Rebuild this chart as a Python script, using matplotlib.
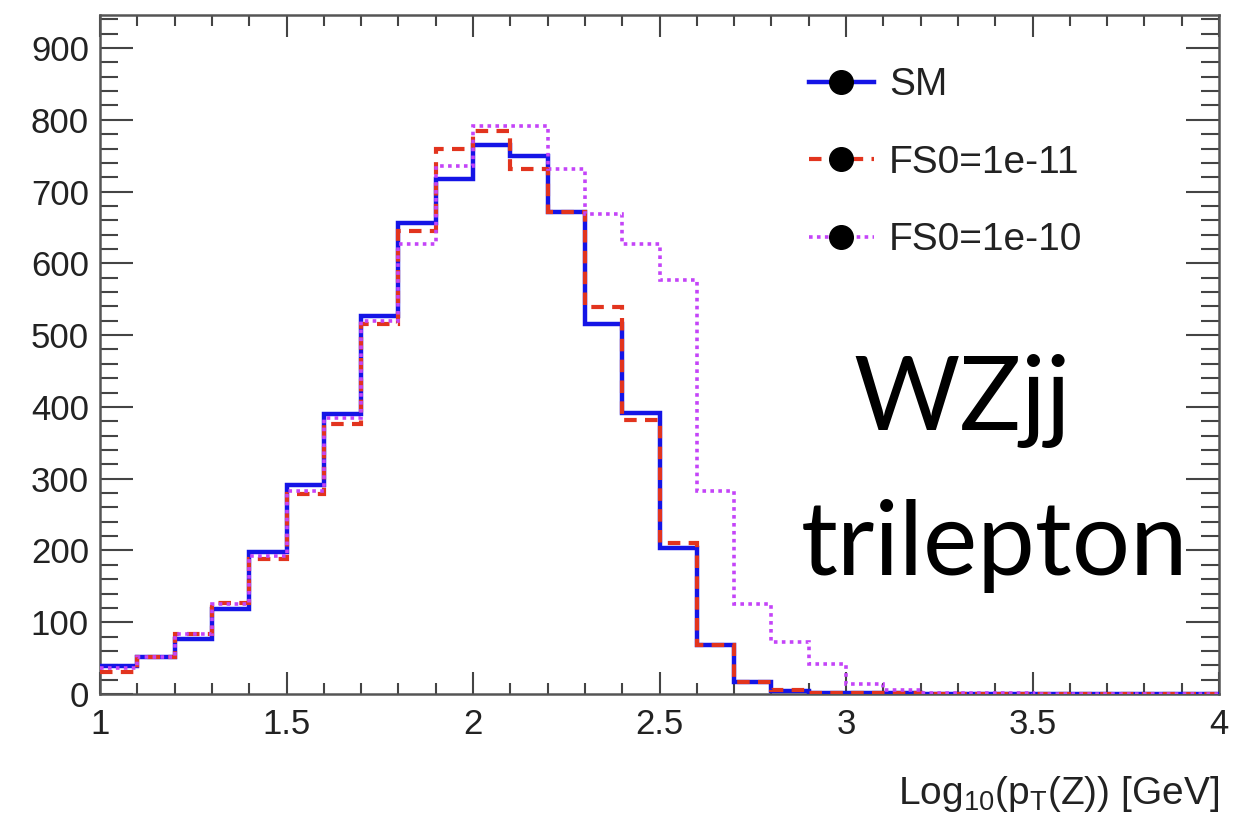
import numpy as np
import matplotlib.pyplot as plt
from matplotlib.lines import Line2D
from matplotlib.ticker import MultipleLocator

plt.rcParams['font.family'] = ['Liberation Sans', 'DejaVu Sans']
plt.rcParams['mathtext.fontset'] = 'custom'
plt.rcParams['mathtext.rm'] = 'Liberation Sans'
plt.rcParams['mathtext.it'] = 'Liberation Sans'

# log10(pT(Z)) binning: 30 bins of 0.1 from 1 to 4
edges = np.round(np.arange(1.0, 4.0001, 0.1), 2)

sm = [39, 52, 77, 119, 198, 291, 390, 526, 656, 717,
      765, 750, 671, 516, 392, 204, 68, 17, 4, 2,
      1, 1, 0, 0, 0, 0, 0, 0, 0, 0]
fs0_1e11 = [31, 52, 84, 127, 188, 279, 376, 516, 645, 760,
            785, 732, 671, 539, 382, 211, 68, 17, 5, 2,
            1, 1, 0, 0, 0, 0, 0, 0, 0, 0]
fs0_1e10 = [36, 52, 84, 125, 192, 283, 385, 520, 627, 735,
            792, 792, 731, 669, 627, 577, 283, 126, 72, 42,
            14, 5, 2, 1, 1, 0, 0, 0, 0, 0]

labels = ["SM", "FS0=1e-11", "FS0=1e-10"]
colors = ["#1414e6", "#e2341e", "#c444f8"]

fig = plt.figure(figsize=(12.44, 8.13), dpi=100)
ax = fig.add_axes([100/1244, 1 - 694/813, 1119/1244, 679/813])

ax.stairs(sm, edges, color=colors[0], lw=3.2, linestyle='-', baseline=None, zorder=3)
ax.stairs(fs0_1e11, edges, color=colors[1], lw=3.0, linestyle=(0, (3, 2)), baseline=None, zorder=4)
ax.stairs(fs0_1e10, edges, color=colors[2], lw=2.6, linestyle=(0, (1, 1.2)), baseline=None, zorder=5)

ax.set_xlim(1, 4)
ax.set_ylim(0, 946)

ax.xaxis.set_major_locator(MultipleLocator(0.5))
ax.xaxis.set_minor_locator(MultipleLocator(0.1))
ax.yaxis.set_major_locator(MultipleLocator(100))
ax.yaxis.set_minor_locator(MultipleLocator(20))
ax.set_xticks([1, 1.5, 2, 2.5, 3, 3.5, 4])
ax.set_xticklabels(["1", "1.5", "2", "2.5", "3", "3.5", "4"])

ax.tick_params(which='both', direction='in', top=True, right=True,
               color='#444444', width=1.5, labelsize=25, labelcolor='#222222')
ax.tick_params(axis='x', which='major', length=16, pad=10)
ax.tick_params(axis='x', which='minor', length=8)
ax.tick_params(axis='y', which='major', length=24, pad=8)
ax.tick_params(axis='y', which='minor', length=13)
for s in ax.spines.values():
    s.set_color('#555555')
    s.set_linewidth(1.8)

ax.set_xlabel(r"Log$_{10}$(p$_{T}$(Z)) [GeV]", fontsize=28, color='#222222')
ax.xaxis.set_label_coords(1.0, -0.118)
ax.xaxis.label.set_horizontalalignment('right')

handles = [Line2D([], [], color=colors[0], lw=3.2, ls='-', marker='o',
                  markersize=17, markerfacecolor='black', markeredgecolor='black'),
           Line2D([], [], color=colors[1], lw=3.0, ls=(0, (3, 2)), marker='o',
                  markersize=17, markerfacecolor='black', markeredgecolor='black'),
           Line2D([], [], color=colors[2], lw=2.6, ls=(0, (1, 1.2)), marker='o',
                  markersize=17, markerfacecolor='black', markeredgecolor='black')]
leg = ax.legend(handles, labels, loc='upper left', bbox_to_anchor=(0.620, 0.946),
                frameon=False, fontsize=28, handlelength=1.65, handletextpad=0.4,
                labelspacing=1.07, borderaxespad=0)
for t in leg.get_texts():
    t.set_color('#222222')

fig.text(962/1244, 1 - 430/813, "WZjj", fontsize=74, family='Lato',
         ha='center', va='baseline', color='black')
fig.text(995/1244, 1 - 575/813, "trilepton", fontsize=74, family='Lato',
         ha='center', va='baseline', color='black')

fig.savefig("out.png", dpi=100, facecolor='white')
